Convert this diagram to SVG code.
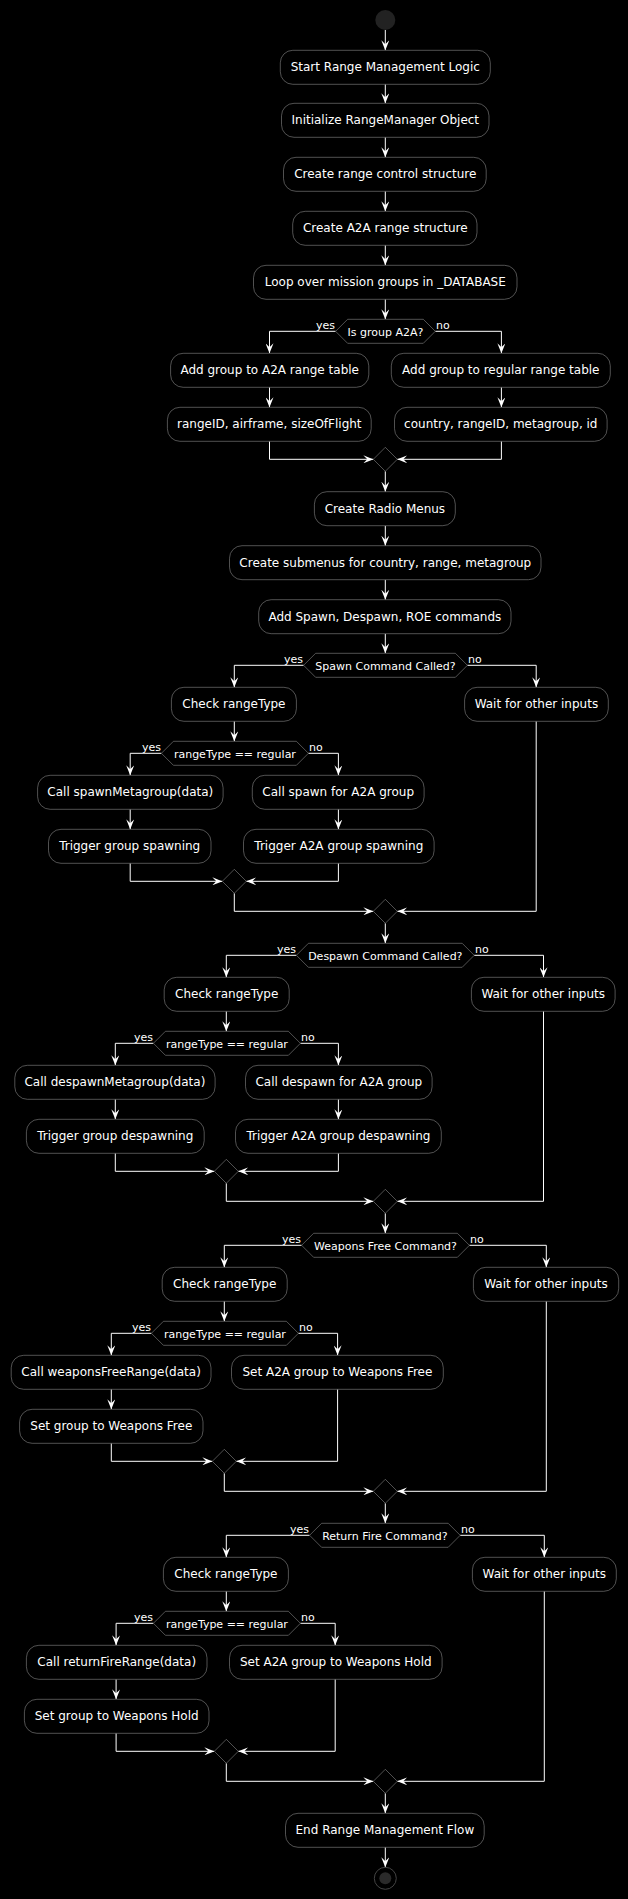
<svg xmlns="http://www.w3.org/2000/svg" width="628" height="1899" viewBox="0 0 628 1899">
<defs>
<marker id="ah" markerUnits="userSpaceOnUse" markerWidth="10" markerHeight="8" refX="10" refY="4" orient="auto" viewBox="0 0 10 8">
<path d="M0,0 L10,4 L0,8 L4,4 Z" fill="#FFFFFF"/>
</marker>
<style>
.bx{fill:#000000;stroke:#888888;stroke-width:0.6}
.dc{fill:#000000;stroke:#888888;stroke-width:0.6}
.t{font-family:"DejaVu Sans",sans-serif;font-size:12px;fill:#FFFFFF;text-anchor:middle}
.dt{font-family:"DejaVu Sans",sans-serif;font-size:11px;fill:#FFFFFF;text-anchor:middle}
.yl{font-family:"DejaVu Sans",sans-serif;font-size:11px;fill:#FFFFFF;text-anchor:end}
.nl{font-family:"DejaVu Sans",sans-serif;font-size:11px;fill:#FFFFFF;text-anchor:start}
.c{fill:none;stroke:#FFFFFF;stroke-width:1;marker-end:url(#ah)}
</style>
</defs>
<rect x="0" y="0" width="628" height="1899" fill="#000000"/>

<g id="connectors">
<path class="c" d="M385.3,30 V50.3"/>
<path class="c" d="M385.3,84.3 V103.3"/>
<path class="c" d="M385.3,137.3 V157.3"/>
<path class="c" d="M385.3,191.3 V211.3"/>
<path class="c" d="M385.3,245.3 V265.3"/>
<path class="c" d="M385.3,299.3 V319.3"/>
<path class="c" d="M335.6,331.3 H269.5 V353.3"/>
<path class="c" d="M435.3,331.3 H501.4 V353.3"/>
<path class="c" d="M269.5,387.3 V407.3"/>
<path class="c" d="M501.4,387.3 V407.3"/>
<path class="c" d="M269.5,441.3 V459.3 H373.3"/>
<path class="c" d="M501.4,441.3 V459.3 H397.3"/>
<path class="c" d="M385.3,471.3 V491.7"/>
<path class="c" d="M385.3,525.7 V545.7"/>
<path class="c" d="M385.3,579.7 V599.7"/>
<path class="c" d="M385.3,633.7 V653.3"/>
<path class="c" d="M303.6,665.3 H234.3 V687.3"/>
<path class="c" d="M467.4,665.3 H536.2 V687.3"/>
<path class="c" d="M234.3,721.3 V741.3"/>
<path class="c" d="M161.4,753.3 H130.2 V775.3"/>
<path class="c" d="M308.4,753.3 H338.4 V775.3"/>
<path class="c" d="M130.2,809.3 V829.3"/>
<path class="c" d="M338.4,809.3 V829.3"/>
<path class="c" d="M130.2,863.3 V881.3 H222.3"/>
<path class="c" d="M338.4,863.3 V881.3 H246.3"/>
<path class="c" d="M234.3,893.3 V911.3 H373.3"/>
<path class="c" d="M536.2,721.3 V911.3 H397.3"/>
<path class="c" d="M385.3,923.3 V943.3"/>
<path class="c" d="M296.4,955.3 H226.3 V977.3"/>
<path class="c" d="M474.2,955.3 H543.5 V977.3"/>
<path class="c" d="M226.3,1011.3 V1031.3"/>
<path class="c" d="M153.4,1043.3 H115.3 V1065.3"/>
<path class="c" d="M300.4,1043.3 H338.4 V1065.3"/>
<path class="c" d="M115.3,1099.3 V1119.3"/>
<path class="c" d="M338.4,1099.3 V1119.3"/>
<path class="c" d="M115.3,1153.3 V1171.3 H214.3"/>
<path class="c" d="M338.4,1153.3 V1171.3 H238.3"/>
<path class="c" d="M226.3,1183.3 V1201.3 H373.3"/>
<path class="c" d="M543.5,1011.3 V1201.3 H397.3"/>
<path class="c" d="M385.3,1213.3 V1233.3"/>
<path class="c" d="M301.6,1245.3 H224.3 V1267.3"/>
<path class="c" d="M469.4,1245.3 H546.3 V1267.3"/>
<path class="c" d="M224.3,1301.3 V1321.3"/>
<path class="c" d="M151.4,1333.3 H111.3 V1355.3"/>
<path class="c" d="M298.4,1333.3 H337.6 V1355.3"/>
<path class="c" d="M111.3,1389.3 V1409.3"/>
<path class="c" d="M111.3,1443.3 V1461.3 H212.3"/>
<path class="c" d="M337.6,1389.3 V1461.3 H236.3"/>
<path class="c" d="M224.3,1473.3 V1491.3 H373.3"/>
<path class="c" d="M546.3,1301.3 V1491.3 H397.3"/>
<path class="c" d="M385.3,1503.3 V1523.3"/>
<path class="c" d="M309.6,1535.3 H226.3 V1557.3"/>
<path class="c" d="M460.2,1535.3 H544.3 V1557.3"/>
<path class="c" d="M226.3,1591.3 V1611.3"/>
<path class="c" d="M153.4,1623.3 H116.1 V1645.3"/>
<path class="c" d="M300.4,1623.3 H335.2 V1645.3"/>
<path class="c" d="M116.1,1679.3 V1699.3"/>
<path class="c" d="M116.1,1733.3 V1751.3 H214.3"/>
<path class="c" d="M335.2,1679.3 V1751.3 H238.3"/>
<path class="c" d="M226.3,1763.3 V1781.3 H373.3"/>
<path class="c" d="M544.3,1591.3 V1781.3 H397.3"/>
<path class="c" d="M385.3,1793.3 V1813.3"/>
<path class="c" d="M385.3,1847.3 V1867.3"/>
</g>

<g id="start"><circle cx="385.3" cy="20" r="10" fill="#222222"/></g>

<g id="n1"><rect class="bx" x="280.3" y="50.3" width="210" height="34" rx="12.5"/><text class="t" x="385.3" y="71.3">Start Range Management Logic</text></g>
<g id="n2"><rect class="bx" x="281.5" y="103.3" width="207.5" height="34" rx="12.5"/><text class="t" x="385.3" y="124.3">Initialize RangeManager Object</text></g>
<g id="n3"><rect class="bx" x="283.5" y="157.3" width="202.7" height="34" rx="12.5"/><text class="t" x="385.3" y="178.3">Create range control structure</text></g>
<g id="n4"><rect class="bx" x="292.7" y="211.3" width="184.3" height="34" rx="12.5"/><text class="t" x="385.3" y="232.3">Create A2A range structure</text></g>
<g id="n5"><rect class="bx" x="253.5" y="265.3" width="263.5" height="34" rx="12.5"/><text class="t" x="385.3" y="286.3">Loop over mission groups in _DATABASE</text></g>

<g id="d1"><polygon class="dc" points="335.6,331.3 347.6,319.3 423.3,319.3 435.3,331.3 423.3,343.3 347.6,343.3"/><text class="dt" x="385.5" y="335.5">Is group A2A?</text><text class="yl" x="335" y="329">yes</text><text class="nl" x="436" y="329">no</text></g>
<g id="n6"><rect class="bx" x="170.6" y="353.3" width="198.2" height="34" rx="12.5"/><text class="t" x="269.7" y="374.3">Add group to A2A range table</text></g>
<g id="n7"><rect class="bx" x="391.3" y="353.3" width="219" height="34" rx="12.5"/><text class="t" x="500.8" y="374.3">Add group to regular range table</text></g>
<g id="n8"><rect class="bx" x="167.4" y="407.3" width="203.8" height="34" rx="12.5"/><text class="t" x="269.3" y="428.3">rangeID, airframe, sizeOfFlight</text></g>
<g id="n9"><rect class="bx" x="394.5" y="407.3" width="212.6" height="34" rx="12.5"/><text class="t" x="500.8" y="428.3">country, rangeID, metagroup, id</text></g>
<g id="m1"><polygon class="dc" points="385.3,447.3 397.3,459.3 385.3,471.3 373.3,459.3"/></g>
<g id="n10"><rect class="bx" x="314.4" y="491.7" width="140.9" height="34" rx="12.5"/><text class="t" x="384.9" y="512.7">Create Radio Menus</text></g>
<g id="n11"><rect class="bx" x="229.5" y="545.7" width="311.5" height="34" rx="12.5"/><text class="t" x="385.3" y="566.7">Create submenus for country, range, metagroup</text></g>
<g id="n12"><rect class="bx" x="258.7" y="599.7" width="252.3" height="34" rx="12.5"/><text class="t" x="384.9" y="620.7">Add Spawn, Despawn, ROE commands</text></g>

<g id="d2"><polygon class="dc" points="303.6,665.3 315.6,653.3 455.4,653.3 467.4,665.3 455.4,677.3 315.6,677.3"/><text class="dt" x="385.5" y="669.5">Spawn Command Called?</text><text class="yl" x="303" y="663">yes</text><text class="nl" x="468" y="663">no</text></g>
<g id="n13"><rect class="bx" x="171.4" y="687.3" width="125" height="34" rx="12.5"/><text class="t" x="233.9" y="708.3">Check rangeType</text></g>
<g id="n14"><rect class="bx" x="464.6" y="687.3" width="143.7" height="34" rx="12.5"/><text class="t" x="536.4" y="708.3">Wait for other inputs</text></g>
<g id="d3"><polygon class="dc" points="161.4,753.3 173.4,741.3 296.4,741.3 308.4,753.3 296.4,765.3 173.4,765.3"/><text class="dt" x="234.9" y="757.5">rangeType == regular</text><text class="yl" x="161" y="751">yes</text><text class="nl" x="309" y="751">no</text></g>
<g id="n15"><rect class="bx" x="37.6" y="775.3" width="185.5" height="34" rx="12.5"/><text class="t" x="130.3" y="796.3">Call spawnMetagroup(data)</text></g>
<g id="n16"><rect class="bx" x="252.3" y="775.3" width="171.8" height="34" rx="12.5"/><text class="t" x="338.2" y="796.3">Call spawn for A2A group</text></g>
<g id="n17"><rect class="bx" x="48.5" y="829.3" width="162.5" height="34" rx="12.5"/><text class="t" x="129.7" y="850.3">Trigger group spawning</text></g>
<g id="n18"><rect class="bx" x="243.5" y="829.3" width="190.6" height="34" rx="12.5"/><text class="t" x="338.8" y="850.3">Trigger A2A group spawning</text></g>
<g id="m2"><polygon class="dc" points="234.3,869.3 246.3,881.3 234.3,893.3 222.3,881.3"/></g>
<g id="m3"><polygon class="dc" points="385.3,899.3 397.3,911.3 385.3,923.3 373.3,911.3"/></g>

<g id="d4"><polygon class="dc" points="296.4,955.3 308.4,943.3 462.2,943.3 474.2,955.3 462.2,967.3 308.4,967.3"/><text class="dt" x="385.3" y="959.5">Despawn Command Called?</text><text class="yl" x="296" y="953">yes</text><text class="nl" x="475" y="953">no</text></g>
<g id="n19"><rect class="bx" x="164.2" y="977.3" width="125" height="34" rx="12.5"/><text class="t" x="226.7" y="998.3">Check rangeType</text></g>
<g id="n20"><rect class="bx" x="471.4" y="977.3" width="143.7" height="34" rx="12.5"/><text class="t" x="543.2" y="998.3">Wait for other inputs</text></g>
<g id="d5"><polygon class="dc" points="153.4,1043.3 165.4,1031.3 288.4,1031.3 300.4,1043.3 288.4,1055.3 165.4,1055.3"/><text class="dt" x="226.9" y="1047.5">rangeType == regular</text><text class="yl" x="153" y="1041">yes</text><text class="nl" x="301" y="1041">no</text></g>
<g id="n21"><rect class="bx" x="14.8" y="1065.3" width="200.3" height="34" rx="12.5"/><text class="t" x="114.9" y="1086.3">Call despawnMetagroup(data)</text></g>
<g id="n22"><rect class="bx" x="245.5" y="1065.3" width="186.6" height="34" rx="12.5"/><text class="t" x="338.8" y="1086.3">Call despawn for A2A group</text></g>
<g id="n23"><rect class="bx" x="26.4" y="1119.3" width="177.8" height="34" rx="12.5"/><text class="t" x="115.3" y="1140.3">Trigger group despawning</text></g>
<g id="n24"><rect class="bx" x="235.5" y="1119.3" width="205.8" height="34" rx="12.5"/><text class="t" x="338.4" y="1140.3">Trigger A2A group despawning</text></g>
<g id="m4"><polygon class="dc" points="226.3,1159.3 238.3,1171.3 226.3,1183.3 214.3,1171.3"/></g>
<g id="m5"><polygon class="dc" points="385.3,1189.3 397.3,1201.3 385.3,1213.3 373.3,1201.3"/></g>

<g id="d6"><polygon class="dc" points="301.6,1245.3 313.6,1233.3 457.4,1233.3 469.4,1245.3 457.4,1257.3 313.6,1257.3"/><text class="dt" x="385.5" y="1249.5">Weapons Free Command?</text><text class="yl" x="301" y="1243">yes</text><text class="nl" x="470" y="1243">no</text></g>
<g id="n25"><rect class="bx" x="162.2" y="1267.3" width="125" height="34" rx="12.5"/><text class="t" x="224.7" y="1288.3">Check rangeType</text></g>
<g id="n26"><rect class="bx" x="473.4" y="1267.3" width="145.3" height="34" rx="12.5"/><text class="t" x="546" y="1288.3">Wait for other inputs</text></g>
<g id="d7"><polygon class="dc" points="151.4,1333.3 163.4,1321.3 286.4,1321.3 298.4,1333.3 286.4,1345.3 163.4,1345.3"/><text class="dt" x="224.9" y="1337.5">rangeType == regular</text><text class="yl" x="151" y="1331">yes</text><text class="nl" x="299" y="1331">no</text></g>
<g id="n27"><rect class="bx" x="11.2" y="1355.3" width="199.8" height="34" rx="12.5"/><text class="t" x="111.1" y="1376.3">Call weaponsFreeRange(data)</text></g>
<g id="n28"><rect class="bx" x="231.5" y="1355.3" width="211.8" height="34" rx="12.5"/><text class="t" x="337.4" y="1376.3">Set A2A group to Weapons Free</text></g>
<g id="n29"><rect class="bx" x="19.6" y="1409.3" width="183.4" height="34" rx="12.5"/><text class="t" x="111.3" y="1430.3">Set group to Weapons Free</text></g>
<g id="m6"><polygon class="dc" points="224.3,1449.3 236.3,1461.3 224.3,1473.3 212.3,1461.3"/></g>
<g id="m7"><polygon class="dc" points="385.3,1479.3 397.3,1491.3 385.3,1503.3 373.3,1491.3"/></g>

<g id="d8"><polygon class="dc" points="309.6,1535.3 321.6,1523.3 448.2,1523.3 460.2,1535.3 448.2,1547.3 321.6,1547.3"/><text class="dt" x="384.9" y="1539.5">Return Fire Command?</text><text class="yl" x="309" y="1533">yes</text><text class="nl" x="461" y="1533">no</text></g>
<g id="n30"><rect class="bx" x="163.4" y="1557.3" width="125" height="34" rx="12.5"/><text class="t" x="225.9" y="1578.3">Check rangeType</text></g>
<g id="n31"><rect class="bx" x="472.4" y="1557.3" width="143.9" height="34" rx="12.5"/><text class="t" x="544.3" y="1578.3">Wait for other inputs</text></g>
<g id="d9"><polygon class="dc" points="153.4,1623.3 165.4,1611.3 288.4,1611.3 300.4,1623.3 288.4,1635.3 165.4,1635.3"/><text class="dt" x="226.9" y="1627.5">rangeType == regular</text><text class="yl" x="153" y="1621">yes</text><text class="nl" x="301" y="1621">no</text></g>
<g id="n32"><rect class="bx" x="26.4" y="1645.3" width="180.6" height="34" rx="12.5"/><text class="t" x="116.7" y="1666.3">Call returnFireRange(data)</text></g>
<g id="n33"><rect class="bx" x="229.5" y="1645.3" width="212.6" height="34" rx="12.5"/><text class="t" x="335.8" y="1666.3">Set A2A group to Weapons Hold</text></g>
<g id="n34"><rect class="bx" x="24.4" y="1699.3" width="184.6" height="34" rx="12.5"/><text class="t" x="116.7" y="1720.3">Set group to Weapons Hold</text></g>
<g id="m8"><polygon class="dc" points="226.3,1739.3 238.3,1751.3 226.3,1763.3 214.3,1751.3"/></g>
<g id="m9"><polygon class="dc" points="385.3,1769.3 397.3,1781.3 385.3,1793.3 373.3,1781.3"/></g>
<g id="n35"><rect class="bx" x="285.5" y="1813.3" width="198.7" height="34" rx="12.5"/><text class="t" x="384.9" y="1834.3">End Range Management Flow</text></g>

<g id="end"><circle cx="385.3" cy="1878.3" r="11" fill="none" stroke="#444444" stroke-width="1"/><circle cx="385.3" cy="1878.3" r="6" fill="#2a2a2a"/></g>
</svg>
